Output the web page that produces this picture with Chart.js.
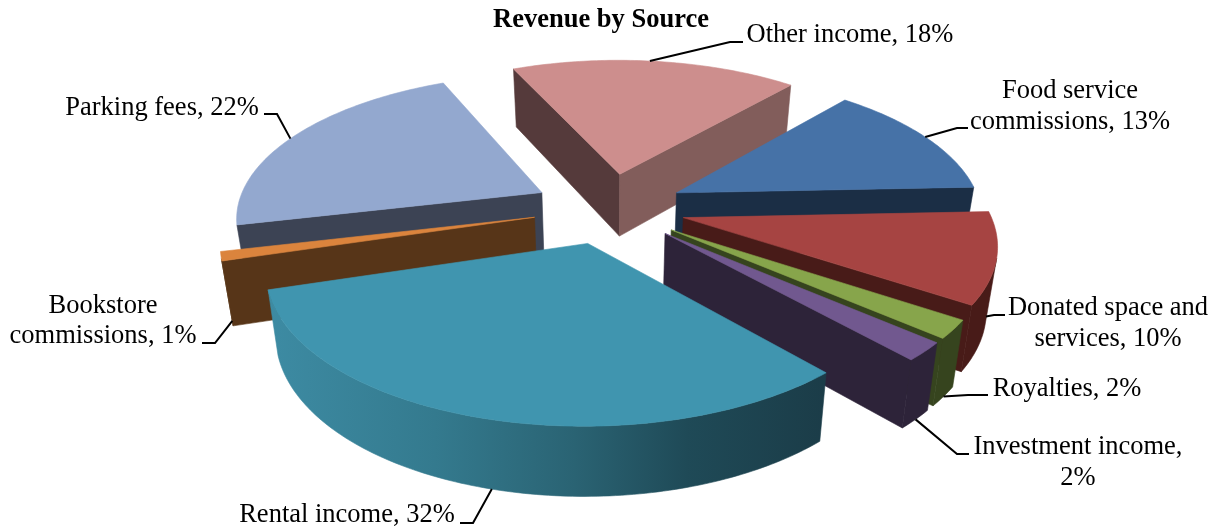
<!DOCTYPE html>
<html>
<head>
<meta charset="utf-8">
<title>Revenue by Source</title>
<script src="https://cdn.jsdelivr.net/npm/chart.js@4"></script>
<style>
  html, body { margin: 0; padding: 0; background: #fff; }
  canvas { display: block; }
</style>
</head>
<body>
<canvas id="myChart" width="1221" height="529"></canvas>
<script>
const categories = ['Other income', 'Food service commissions', 'Donated space and services', 'Royalties',
    'Investment income', 'Rental income', 'Bookstore commissions', 'Parking fees'];
const shares = [18, 13, 10, 2, 2, 32, 1, 22];
const labelLines = [
    ['Other income, 18%'],
    ['Food service', 'commissions, 13%'],
    ['Donated space and', 'services, 10%'],
    ['Royalties, 2%'],
    ['Investment income,', '2%'],
    ['Rental income, 32%'],
    ['Bookstore', 'commissions, 1%'],
    ['Parking fees, 22%']
];
const topColors = ['#CD8E8D', '#4672A7', '#A64442', '#87A54B', '#71588F', '#4095AF', '#DB843D', '#93A8CF'];
const startWallColors = ['#553A3B', '#1B2E45', '#481B18', '#36441E', '#2D2339', '#1B3C48', '#573518', '#3C4354'];
const endWallColors = ['#825D5B', '#1B2E45', '#481B18', '#36441E', '#2D2339', '#3D8BA3', '#573518', '#3C4354'];
const drawOrder = [0, 7, 1, 6, 2, 3, 4, 5];

// how the flat pie is tilted on to the page
const view = { cx: 609, cy: 208, rx: 305, ry: 141.6, persp: 0.157, lean: 0.03, depth: 63 };

// label centre, line y's, leader [x0, x1, y] and where it lands on the slice (arc fraction, wall height)
const labelLayout = [
    { x: 850, y: [35], leader: [743, 730, 42], frac: 0.48, z: 0 },
    { x: 1070, y: [91, 122], leader: [968, 957, 128], frac: 0.5, z: 0 },
    { x: 1108, y: [308, 339], leader: [1005, 994, 315], frac: 0.6, z: 0.75 },
    { x: 1067, y: [389], leader: [988, 968, 395], frac: 0.5, z: 1 },
    { x: 1078, y: [447, 478], leader: [969, 957, 454], frac: 0.5, z: 1 },
    { x: 347, y: [515], leader: [460, 473, 523], frac: 0.492, z: 1 },
    { x: 103, y: [306, 336], leader: [202, 215, 343], frac: 0.5, z: 1 },
    { x: 162, y: [108], leader: [264, 277, 114], frac: 0.48, z: 0 }
];

function project(x, y, z) {
    const w = 1 - view.persp * y;
    return {
        x: view.cx + view.rx * x / (w * (1 + view.lean * z)),
        y: view.cy + view.ry * y / w + view.depth * z / Math.sqrt(w)
    };
}

function arcPoint(arc, angle, z) {
    const mid = (arc.startAngle + arc.endAngle) / 2;
    const explode = arc.options.offset / 100;
    return project(explode * Math.cos(mid) + Math.cos(angle), explode * Math.sin(mid) + Math.sin(angle), z);
}

function apexPoint(arc, z) {
    const mid = (arc.startAngle + arc.endAngle) / 2;
    const explode = arc.options.offset / 100;
    return project(explode * Math.cos(mid), explode * Math.sin(mid), z);
}

function fillPoly(ctx, pts, color) {
    ctx.beginPath();
    pts.forEach((p, i) => (i ? ctx.lineTo(p.x, p.y) : ctx.moveTo(p.x, p.y)));
    ctx.closePath();
    ctx.fillStyle = color;
    ctx.strokeStyle = color;
    ctx.lineWidth = 0.6;
    ctx.fill();
    ctx.stroke();
}

function facesViewer(q) {
    let area = 0;
    q.forEach((p, i) => {
        const n = q[(i + 1) % q.length];
        area += p.x * n.y - n.x * p.y;
    });
    return area < 0;
}

function drawSlice(ctx, arc, i) {
    const steps = Math.max(4, Math.round((arc.endAngle - arc.startAngle) * 60));
    const angles = [];
    for (let s = 0; s <= steps; s++) {
        angles.push(arc.startAngle + (arc.endAngle - arc.startAngle) * s / steps);
    }
    const top = angles.map(a => arcPoint(arc, a, 0));
    const bottom = angles.map(a => arcPoint(arc, a, 1));
    const apexTop = apexPoint(arc, 0);
    const apexBottom = apexPoint(arc, 1);

    const startWall = [apexTop, top[0], bottom[0], apexBottom];
    const endWall = [top[steps], apexTop, apexBottom, bottom[steps]];
    if (facesViewer(startWall)) fillPoly(ctx, startWall, startWallColors[i]);
    if (facesViewer(endWall)) fillPoly(ctx, endWall, endWallColors[i]);

    // only rental income has the shaded outer wall, the others are flat
    let outer = startWallColors[i];
    if (i === 5) {
        outer = ctx.createLinearGradient(top[steps].x, 0, top[0].x, 0);
        outer.addColorStop(0, '#3D8BA3');
        outer.addColorStop(0.3, '#347A8E');
        outer.addColorStop(0.55, '#2A6373');
        outer.addColorStop(0.75, '#1F4A57');
        outer.addColorStop(1, '#1B3C48');
    }
    // outer wall as one shape so the gradient has no seams
    const upper = [];
    const lower = [];
    for (let s = 0; s < steps; s++) {
        const q = [top[s], top[s + 1], bottom[s + 1], bottom[s]];
        if (facesViewer(q)) {
            if (!upper.length) {
                upper.push(top[s]);
                lower.push(bottom[s]);
            }
            upper.push(top[s + 1]);
            lower.push(bottom[s + 1]);
        }
    }
    if (upper.length) fillPoly(ctx, upper.concat(lower.reverse()), outer);

    fillPoly(ctx, [apexTop].concat(top), topColors[i]);
}

const pie3d = {
    id: 'pie3d',
    beforeDatasetsDraw(chart) {
        const ctx = chart.ctx;
        const arcs = chart.getDatasetMeta(0).data;
        ctx.save();
        drawOrder.forEach(i => drawSlice(ctx, arcs[i], i));
        ctx.restore();
        return false;
    },
    afterDraw(chart) {
        const ctx = chart.ctx;
        const arcs = chart.getDatasetMeta(0).data;
        ctx.save();
        ctx.font = '26.5px "Liberation Serif"';
        ctx.textAlign = 'center';
        ctx.textBaseline = 'middle';
        ctx.fillStyle = '#000';
        ctx.strokeStyle = '#000';
        ctx.lineWidth = 2;
        labelLayout.forEach((l, i) => {
            labelLines[i].forEach((line, k) => ctx.fillText(line, l.x, l.y[k]));
            const arc = arcs[i];
            const end = arcPoint(arc, arc.startAngle + (arc.endAngle - arc.startAngle) * l.frac, l.z);
            ctx.beginPath();
            ctx.moveTo(l.leader[0], l.leader[2]);
            ctx.lineTo(l.leader[1], l.leader[2]);
            ctx.lineTo(end.x, end.y);
            ctx.stroke();
        });
        ctx.restore();
    }
};

new Chart(document.getElementById('myChart'), {
    type: 'pie',
    data: {
        labels: categories,
        datasets: [{
            data: shares,
            backgroundColor: topColors,
            offset: 25
        }]
    },
    options: {
        responsive: false,
        animation: false,
        rotation: -24,
        layout: { padding: { right: 19 } },
        plugins: {
            legend: { display: false },
            tooltip: { enabled: false },
            title: {
                display: true,
                text: 'Revenue by Source',
                color: '#000',
                font: { family: '"Liberation Serif"', size: 26.5, weight: 'bold' },
                padding: { top: 4, bottom: 4 }
            }
        }
    },
    plugins: [pie3d]
});
</script>
</body>
</html>
